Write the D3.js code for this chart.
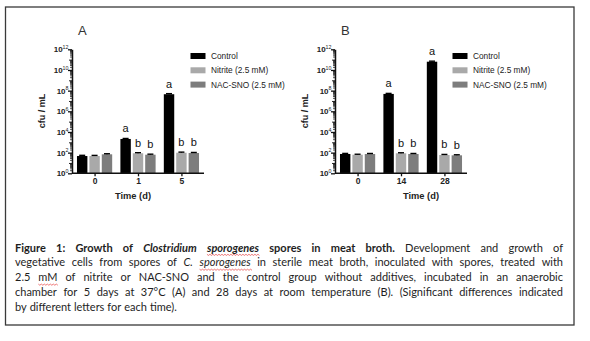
<!DOCTYPE html>
<html><head><meta charset="utf-8">
<script src="https://cdn.jsdelivr.net/npm/d3@7"></script>
<style>
html,body{margin:0;padding:0;background:#fff;}
svg{display:block;}
</style></head>
<body>
<script>
// ---------- data ----------
const seriesNames = ["Control", "Nitrite (2.5 mM)", "NAC-SNO (2.5 mM)"];
const seriesColors = ["#000000", "#a9a9a9", "#7d7d7d"];
const daysA = ["0", "1", "5"];
const controlA = [47, 2100, 4.5e7];
const nitriteA = [47, 87, 98];
const nacA = [69, 63, 92];
const errControlA = [8, 250, 6e6];
const errNitriteA = [7, 12, 14];
const errNacA = [9, 8, 12];
const lettersA = [["", "", ""], ["a", "b", "b"], ["a", "b", "b"]];

const daysB = ["0", "14", "28"];
const controlB = [74, 4.8e7, 6.3e10];
const nitriteB = [63, 87, 59];
const nacB = [74, 74, 55];
const errControlB = [10, 6e6, 8e9];
const errNitriteB = [7, 10, 8];
const errNacB = [9, 9, 7];
const lettersB = [["", "", ""], ["a", "b", "b"], ["a", "b", "b"]];

const yTickExps = [0, 2, 4, 6, 8, 10, 12];

const W = 590, H = 341;
const FF = "'Liberation Sans', Arial, sans-serif";
const svg = d3.select("body").append("svg").attr("width", W).attr("height", H);
svg.append("rect").attr("width", W).attr("height", H).attr("fill", "#fff");

// frame
svg.append("rect").attr("x", 5.5).attr("y", 7).attr("width", 568.5).attr("height", 318)
  .attr("fill", "none").attr("stroke", "#3a3a3a").attr("stroke-width", 1.3);

const y = d3.scaleLog().domain([1, 1e12]).range([173.3, 49.3]);

function panel(ox, title, days, vals, errs, letters, legendX, timeLabelX) {
  const g = svg.append("g").attr("transform", `translate(${ox},0)`);
  const x0 = 72, x1 = 204;
  const xg = d3.scalePoint().domain(days).range([x0, x1]).padding(0.52);
  const xs = d3.scaleBand().domain(d3.range(3)).range([-17.6, 17.6]).paddingInner(0.16);

  // bars
  days.forEach((d, i) => {
    for (let s = 0; s < 3; s++) {
      const v = vals[s][i], e = errs[s][i];
      const bx = xg(d) + xs(s);
      g.append("rect").attr("x", bx).attr("y", y(v)).attr("width", xs.bandwidth())
        .attr("height", y(1) - y(v)).attr("fill", seriesColors[s]);
      const cx = bx + xs.bandwidth() / 2;
      g.append("line").attr("x1", cx).attr("x2", cx).attr("y1", y(v)).attr("y2", y(v + e))
        .attr("stroke", "#000").attr("stroke-width", 1.2);
      g.append("line").attr("x1", cx - 3).attr("x2", cx + 3).attr("y1", y(v + e)).attr("y2", y(v + e))
        .attr("stroke", "#000").attr("stroke-width", 1.4);
      const L = letters[i][s];
      if (L) {
        g.append("text").attr("x", cx).attr("y", y(v + e) - 6).attr("text-anchor", "middle")
          .attr("font-family", FF).attr("font-size", 11)
          .attr("fill", "#111").text(L);
      }
    }
  });

  // y axis
  const minor = [];
  for (let k = 0; k < 12; k++) for (let m = 2; m <= 9; m++) minor.push(m * Math.pow(10, k));
  const gm = g.append("g").attr("transform", `translate(${x0},0)`)
    .call(d3.axisLeft(y).tickValues(minor).tickSize(2).tickFormat(""));
  gm.select(".domain").remove();
  gm.selectAll("line").attr("stroke", "#222").attr("stroke-width", 0.8);
  const odd = d3.range(1, 12, 2).map(k => Math.pow(10, k));
  const go = g.append("g").attr("transform", `translate(${x0},0)`)
    .call(d3.axisLeft(y).tickValues(odd).tickSize(3).tickFormat(""));
  go.select(".domain").remove();
  go.selectAll("line").attr("stroke", "#222").attr("stroke-width", 1);
  const gy = g.append("g").attr("transform", `translate(${x0},0)`)
    .call(d3.axisLeft(y).tickValues(yTickExps.map(k => Math.pow(10, k))).tickSize(4).tickSizeOuter(0).tickFormat(""));
  gy.select(".domain").attr("stroke", "#111").attr("stroke-width", 1.5);
  gy.selectAll(".tick line").attr("stroke", "#111").attr("stroke-width", 1.3);
  yTickExps.forEach(k => {
    const t = g.append("text").attr("x", x0 - 3.5).attr("y", y(Math.pow(10, k)) + 3)
      .attr("text-anchor", "end").attr("font-family", FF)
      .attr("font-weight", "bold").attr("font-size", 8).attr("fill", "#222");
    t.append("tspan").text("10");
    t.append("tspan").attr("dy", -3.3).attr("font-size", 5.3).attr("font-weight", "normal").text(String(k));
  });

  // x axis
  const gx = g.append("g").attr("transform", `translate(0,${y(1)})`)
    .call(d3.axisBottom(xg).tickSize(3).tickSizeOuter(0).tickPadding(2));
  gx.select(".domain").attr("d", `M${x0},0H${x1}`).attr("stroke", "#111").attr("stroke-width", 1.5);
  gx.selectAll(".tick line").attr("stroke", "#111").attr("stroke-width", 1.3);
  gx.selectAll(".tick text").attr("font-family", FF)
    .attr("font-weight", "bold").attr("font-size", 8.5).attr("fill", "#222");

  // labels
  g.append("text").attr("x", 78).attr("y", 35).attr("font-family", FF)
    .attr("font-size", 13).attr("fill", "#333").text(title);
  g.append("text").attr("transform", "translate(44.5,111) rotate(-90)").attr("text-anchor", "middle")
    .attr("font-family", FF).attr("font-weight", "bold")
    .attr("font-size", 9).attr("fill", "#222").text("cfu / mL");
  g.append("text").attr("x", timeLabelX).attr("y", 198.5).attr("text-anchor", "middle")
    .attr("font-family", FF).attr("font-weight", "bold")
    .attr("font-size", 9.3).attr("fill", "#222").text("Time (d)");

  // legend
  seriesNames.forEach((n, s) => {
    const ly = 56 + s * 14.3;
    g.append("rect").attr("x", legendX).attr("y", ly - 3).attr("width", 15).attr("height", 6)
      .attr("fill", seriesColors[s]);
    g.append("text").attr("x", legendX + 20.5).attr("y", ly + 3)
      .attr("font-family", FF).attr("font-size", 8.3)
      .attr("fill", "#222").text(n);
  });
}

panel(0, "A", daysA, [controlA, nitriteA, nacA], [errControlA, errNitriteA, errNacA], lettersA, 190.5, 133);
panel(263, "B", daysB, [controlB, nitriteB, nacB], [errControlB, errNitriteB, errNacB], lettersB, 189.5, 158);

// ---------- caption ----------
// tokens: [text, style] ; b = bold, i = italic, s = spell-check squiggle
const captionLines = [
  [["Figure 1: Growth of", "b"], ["Clostridium", "bi"], ["sporogenes", "bis"], ["spores in meat broth.", "b"], ["Development and growth of", ""]],
  [["vegetative cells from spores of", ""], ["C.", "i"], ["sporogenes", "is"], ["in sterile meat broth, inoculated with spores, treated with", ""]],
  [["2.5", ""], ["mM", "s"], ["of nitrite or NAC-SNO and the control group without additives, incubated in an anaerobic", ""]],
  [["chamber for 5 days at 37°C (A) and 28 days at room temperature (B). (Significant differences indicated", ""]],
  [["by different letters for each time).", ""]]
];
const capX0 = 15, capX1 = 563, capY0 = 251.5, capLH = 14.9;
const capFont = "Lato, 'Open Sans', sans-serif", capSize = 11;

const measure = svg.append("text").attr("font-family", capFont).attr("font-size", capSize).attr("visibility", "hidden");
function wordWidth(w, st) {
  measure.attr("font-weight", st.includes("b") ? "bold" : "normal")
    .attr("font-style", st.includes("i") ? "italic" : "normal").text(w);
  return measure.node().getComputedTextLength();
}
const spaceW = (() => { measure.attr("font-weight", "normal").attr("font-style", "normal").text("a a"); const a = measure.node().getComputedTextLength(); measure.text("aa"); return a - measure.node().getComputedTextLength(); })();

captionLines.forEach((line, li) => {
  const words = [];
  line.forEach(([txt, st]) => txt.split(" ").forEach(w => words.push({ w, st, wd: wordWidth(w, st) })));
  const total = d3.sum(words, d => d.wd);
  const last = li === captionLines.length - 1;
  const gap = last ? spaceW * 1.05 : (capX1 - capX0 - total) / (words.length - 1);
  let cx = capX0;
  const by = capY0 + li * capLH;
  words.forEach(d => {
    svg.append("text").attr("x", cx).attr("y", by).attr("font-family", capFont).attr("font-size", capSize)
      .attr("font-weight", d.st.includes("b") ? "bold" : "normal")
      .attr("font-style", d.st.includes("i") ? "italic" : "normal")
      .attr("fill", "#1e1e1e").text(d.w);
    if (d.st.includes("s")) {
      let p = `M${cx},${by + 2.8}`;
      for (let xx = cx, k = 0; xx < cx + d.wd; xx += 1.5, k++) p += `L${xx + 1.5},${by + (k % 2 ? 2.8 : 3.9)}`;
      svg.append("path").attr("d", p).attr("fill", "none").attr("stroke", "#e02020").attr("stroke-width", 0.6);
    }
    cx += d.wd + gap;
  });
});
measure.remove();
</script>
</body></html>
